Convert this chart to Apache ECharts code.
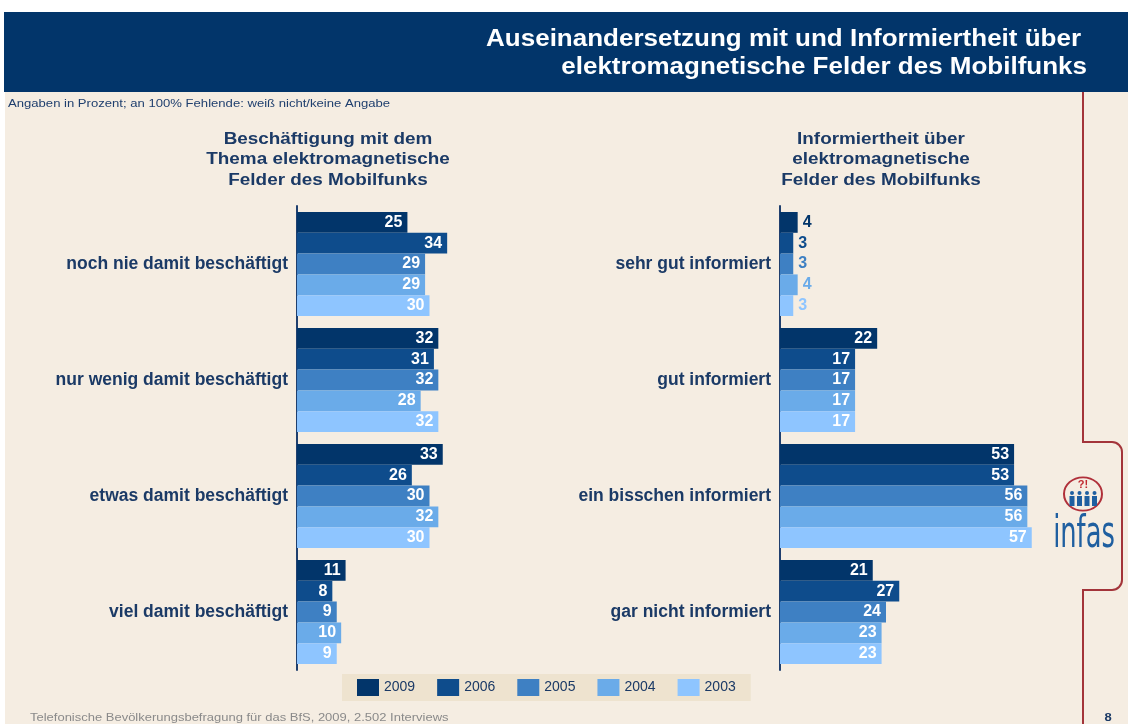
<!DOCTYPE html>
<html><head><meta charset="utf-8">
<script src="https://cdn.jsdelivr.net/npm/echarts@6/dist/echarts.min.js"></script>
<style>html,body{margin:0;padding:0;background:#fff}#c{width:1128px;height:724px}</style>
</head><body><div id="c"></div>
<script>
const years = ['2009','2006','2005','2004','2003'];
const colors = ['#02356A','#0E4C8C','#3E80C3','#6AABE9','#8EC5FF'];
const leftCategories = ['noch nie damit beschäftigt','nur wenig damit beschäftigt','etwas damit beschäftigt','viel damit beschäftigt'];
const rightCategories = ['sehr gut informiert','gut informiert','ein bisschen informiert','gar nicht informiert'];
// values per year, in category order
const left2009 = [25,32,33,11];
const left2006 = [34,31,26,8];
const left2005 = [29,32,30,9];
const left2004 = [29,28,32,10];
const left2003 = [30,32,30,9];
const right2009 = [4,22,53,21];
const right2006 = [3,17,53,27];
const right2005 = [3,17,56,24];
const right2004 = [4,17,56,23];
const right2003 = [3,17,57,23];
const leftValues = [left2009,left2006,left2005,left2004,left2003];
const rightValues = [right2009,right2006,right2005,right2004,right2003];
const leftTitle = 'Beschäftigung mit dem\nThema elektromagnetische\nFelder des Mobilfunks';
const rightTitle = 'Informiertheit über\nelektromagnetische\nFelder des Mobilfunks';

const chart = echarts.init(document.getElementById('c'));
const dark = '#1B3A66';
const FF = 'Liberation Sans, Arial';
function mkSeries(vals, idx) {
  return vals.map((arr, i) => ({
    name: years[i], type: 'bar', xAxisIndex: idx, yAxisIndex: idx,
    barGap: '0%', barCategoryGap: '10.3%',
    itemStyle: { color: colors[i] },
    label: { show: true, position: 'insideRight', distance: 5, color: '#fff',
             fontWeight: 'bold', fontSize: 16, fontFamily: FF },
    data: arr.map(v => v < 8 ? { value: v, label: { position: 'right', distance: 5, color: colors[i] } } : v),
    silent: true, animation: false
  }));
}
const axisCommon = {
  type: 'category', inverse: true,
  axisTick: { show: false },
  axisLine: { show: true, lineStyle: { color: '#1F3F6E', width: 2 } },
  axisLabel: { color: dark, fontWeight: 'bold', fontSize: 17.5, margin: 9, fontFamily: FF, padding: [3, 0, 0, 0] }
};
function txt(x, y, text, font, fill, align, sx, extra, sy) {
  return { type: 'text', silent: true, x: x, y: y, scaleX: sx, scaleY: sy || 1,
    style: Object.assign({ x: 0, y: 0, text: text, font: font, fill: fill, textAlign: align, textVerticalAlign: 'middle' }, extra || {}) };
}
function seg(x1, y1, x2, y2) {
  return { type: 'line', silent: true, shape: { x1: x1, y1: y1, x2: x2, y2: y2 }, style: { stroke: '#A3343A', lineWidth: 2 } };
}
function arc(cx, cy, a0, a1) {
  return { type: 'arc', silent: true, shape: { cx: cx, cy: cy, r: 10, startAngle: a0, endAngle: a1 }, style: { stroke: '#A3343A', lineWidth: 2, fill: 'none' } };
}
chart.setOption({
  animation: false,
  backgroundColor: '#ffffff',
  grid: [
    { left: 297, width: 265, top: 206, height: 464 },
    { left: 780, width: 265, top: 206, height: 464 }
  ],
  xAxis: [
    { type: 'value', gridIndex: 0, min: 0, max: 60, show: false },
    { type: 'value', gridIndex: 1, min: 0, max: 60, show: false }
  ],
  yAxis: [
    Object.assign({ gridIndex: 0, data: leftCategories }, axisCommon),
    Object.assign({ gridIndex: 1, data: rightCategories }, axisCommon)
  ],
  legend: {
    data: years, left: 342, top: 674, padding: [5, 15], itemGap: 22,
    itemWidth: 22, itemHeight: 17, icon: 'rect',
    backgroundColor: '#EEE3CF',
    textStyle: { color: dark, fontSize: 14, fontFamily: FF },
    selectedMode: false
  },
  series: mkSeries(leftValues, 0).concat(mkSeries(rightValues, 1)),
  graphic: [
    { type: 'rect', z: -10, silent: true, shape: { x: 5, y: 92, width: 1123, height: 632 }, style: { fill: '#F5EDE2' } },
    { type: 'rect', z: -5, silent: true, shape: { x: 4, y: 12, width: 1124, height: 80 }, style: { fill: '#02356A' } },
    txt(1081, 40, 'Auseinandersetzung mit und Informiertheit über', 'bold 23px ' + FF, '#fff', 'right', 1.13),
    txt(1087, 68, 'elektromagnetische Felder des Mobilfunks', 'bold 23px ' + FF, '#fff', 'right', 1.13),
    txt(8, 104, 'Angaben in Prozent; an 100% Fehlende: weiß nicht/keine Angabe', '11px ' + FF, '#1F3F6E', 'left', 1.19),
    txt(328, 160, leftTitle, 'bold 16px ' + FF, dark, 'center', 1.18, { lineHeight: 20.5 }),
    txt(881, 160, rightTitle, 'bold 16px ' + FF, dark, 'center', 1.18, { lineHeight: 20.5 }),
    txt(30, 718, 'Telefonische Bevölkerungsbefragung für das BfS, 2009, 2.502 Interviews', '11px ' + FF, '#8A8A8A', 'left', 1.18),
    txt(1108, 718, '8', 'bold 11px ' + FF, dark, 'center', 1.18),
    seg(1083, 92, 1083, 443), seg(1082, 442, 1112, 442), arc(1112, 452, -Math.PI / 2, 0),
    seg(1122, 452, 1122, 580), arc(1112, 580, 0, Math.PI / 2), seg(1112, 590, 1082, 590), seg(1083, 589, 1083, 724),
    { type: 'circle', silent: true, x: 1083, y: 494, scaleY: 0.88, shape: { cx: 0, cy: 0, r: 19 }, style: { fill: 'none', stroke: '#B0303A', lineWidth: 2 } },
    txt(1083, 485, '?!', 'bold 11px ' + FF, '#C0282F', 'center', 1),
    { type: 'group', silent: true, children: [1072, 1079.5, 1087, 1094.5].map(x => ({ type: 'group', children: [
      { type: 'circle', shape: { cx: x, cy: 493, r: 2 }, style: { fill: '#1F5FA0' } },
      { type: 'rect', shape: { x: x - 2.5, y: 496, width: 5, height: 10 }, style: { fill: '#1F5FA0' } }
    ] })) },
    txt(1084, 536, 'infas', '44px Liberation Sans Narrow, DejaVu Sans Condensed, Arial', '#1F5FA0', 'center', 0.65)
  ]
});
</script></body></html>
